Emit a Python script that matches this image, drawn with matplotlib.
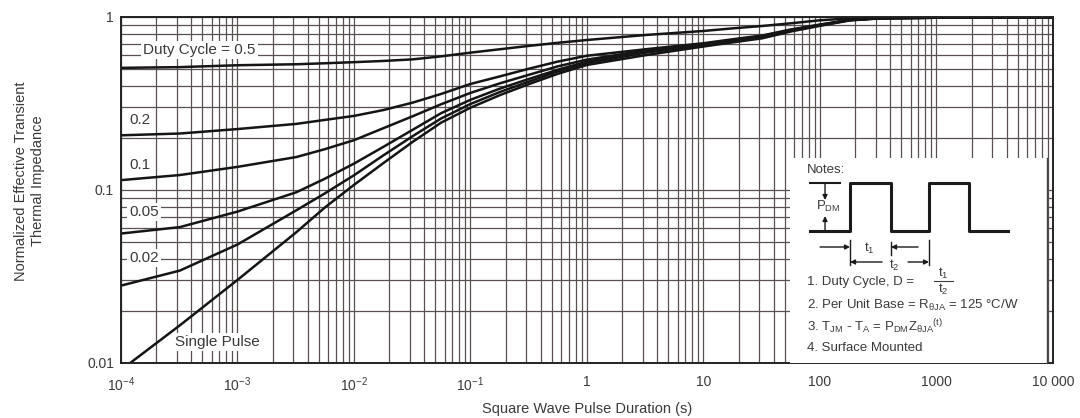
import matplotlib
matplotlib.use("Agg")
import matplotlib.pyplot as plt

plt.rcParams['font.family'] = ['Liberation Sans', 'DejaVu Sans']
plt.rcParams['mathtext.fontset'] = 'custom'
plt.rcParams['mathtext.rm'] = 'Liberation Sans'
plt.rcParams['mathtext.it'] = 'Liberation Sans:italic'

# pulse duration (s)
t = [1e-4, 3.2e-4, 1e-3, 3.2e-3, 5.6e-3, 1e-2, 1.8e-2, 3.2e-2, 5.6e-2, 0.1,
     0.18, 0.32, 0.56, 1, 3.2, 10, 18, 32, 56, 100, 180, 320, 1000, 3200, 10000]

d50 = [0.508, 0.513, 0.526, 0.533, 0.540, 0.548, 0.557, 0.569, 0.592, 0.622,
       0.651, 0.681, 0.709, 0.736, 0.787, 0.83, 0.86, 0.887, 0.919, 0.957,
       0.981, 0.993, 0.99, 0.99, 0.99]
d20 = [0.207, 0.212, 0.225, 0.241, 0.254, 0.268, 0.29, 0.32, 0.359, 0.41,
       0.454, 0.503, 0.552, 0.597, 0.651, 0.705, 0.744, 0.782, 0.846, 0.904,
       0.963, 0.986, 0.99, 0.99, 0.99]
d10 = [0.114, 0.122, 0.136, 0.155, 0.172, 0.194, 0.228, 0.267, 0.313, 0.364,
       0.414, 0.464, 0.518, 0.567, 0.641, 0.695, 0.737, 0.776, 0.841, 0.901,
       0.961, 0.984, 0.99, 0.99, 0.99]
d05 = [0.056, 0.061, 0.075, 0.097, 0.116, 0.142, 0.178, 0.223, 0.278, 0.332,
       0.386, 0.439, 0.495, 0.552, 0.631, 0.69, 0.729, 0.768, 0.836, 0.898,
       0.96, 0.983, 0.99, 0.99, 0.99]
d02 = [0.028, 0.0342, 0.0484, 0.0763, 0.0954, 0.1216, 0.159, 0.205, 0.259,
       0.314, 0.369, 0.424, 0.484, 0.541, 0.622, 0.685, 0.724, 0.763, 0.831,
       0.894, 0.958, 0.982, 0.99, 0.99, 0.99]

t_single = [1.2e-4, 3.2e-4, 1e-3, 3.2e-3, 5.6e-3, 1e-2, 1.8e-2, 3.2e-2,
            5.6e-2, 0.1, 0.18, 0.32, 0.56, 1, 3.2, 10, 18, 32, 56, 100, 180,
            320, 1000, 3200, 10000]
single = [0.01, 0.0165, 0.0302, 0.057, 0.079, 0.107, 0.1435, 0.19, 0.245,
          0.299, 0.354, 0.41, 0.469, 0.528, 0.602, 0.675, 0.714, 0.753, 0.824,
          0.889, 0.955, 0.98, 0.99, 0.99, 0.99]

xticks = [1e-4, 1e-3, 1e-2, 1e-1, 1, 10, 100, 1000, 10000]
xticklabels = [r'$\mathregular{10^{-4}}$', r'$\mathregular{10^{-3}}$',
               r'$\mathregular{10^{-2}}$', r'$\mathregular{10^{-1}}$',
               '1', '10', '100', '1000', '10 000']
yticks = [0.01, 0.1, 1]
yticklabels = ['0.01', '0.1', '1']

txt = '#3a3a3a'
gridc = '#5a5050'
ink = '#151515'

fig = plt.figure(figsize=(10.8, 4.18), dpi=100)
ax = fig.add_axes([0.112, 0.1316, 0.863, 0.8278])
ax.set_xscale('log')
ax.set_yscale('log')
ax.set_xlim(1e-4, 1e4)
ax.set_ylim(0.01, 1)

ax.grid(True, which='both', color=gridc, lw=0.9)
ax.set_axisbelow(True)

for y in [d50, d20, d10, d05, d02]:
    ax.plot(t, y, color=ink, lw=1.8)
ax.plot(t_single, single, color=ink, lw=1.8)

ax.set_xticks(xticks)
ax.set_xticklabels(xticklabels)
ax.set_yticks(yticks)
ax.set_yticklabels(yticklabels)
ax.tick_params(which='both', length=0, labelsize=10, colors=txt)
ax.tick_params(axis='x', pad=9)
ax.tick_params(axis='y', pad=5)
for s in ax.spines.values():
    s.set_color('#222222')
    s.set_linewidth(1.4)

ax.set_xlabel('Square Wave Pulse Duration (s)', fontsize=10.5, color=txt,
              labelpad=6)
fig.text(0.027, 0.567, 'Normalized Effective Transient\nThermal Impedance',
         rotation=90, ha='center', va='center', fontsize=10.5, color=txt,
         linespacing=1.3)

# curve labels
lbl = dict(fontsize=11, color=txt, va='center', ha='left',
           bbox=dict(facecolor='white', edgecolor='none', pad=1.5))
ax.text(1.55e-4, 0.644, 'Duty Cycle = 0.5', **lbl)
ax.text(1.17e-4, 0.254, '0.2', **lbl)
ax.text(1.17e-4, 0.14, '0.1', **lbl)
ax.text(1.17e-4, 0.0746, '0.05', **lbl)
ax.text(1.17e-4, 0.0404, '0.02', **lbl)
ax.text(2.9e-4, 0.0132, 'Single Pulse', **lbl)

# notes box
nb = fig.add_axes([0.7315, 0.1316, 0.238, 0.4904])
nb.set_xlim(0, 257)
nb.set_ylim(205, 0)
nb.set_facecolor('white')
nb.set_xticks([])
nb.set_yticks([])
for k, s in nb.spines.items():
    s.set_visible(k == 'right')
    s.set_linewidth(1.0)
    s.set_color('#444444')

nfs = 9.5
nb.text(17, 12, 'Notes:', fontsize=nfs, color=txt, va='center')
nb.plot([20, 60, 60, 101, 101, 139, 139, 179, 179, 218],
        [73, 73, 25, 25, 73, 73, 25, 25, 73, 73], color='#1a1a1a', lw=2.2)
nb.plot([20, 50], [25, 25], color='#1a1a1a', lw=1.5)
arr = dict(arrowstyle='-|>', color='#1a1a1a', lw=1.0, mutation_scale=7,
           shrinkA=0, shrinkB=0)
nb.annotate('', xy=(35, 42), xytext=(35, 25), arrowprops=arr)
nb.annotate('', xy=(35, 58), xytext=(35, 73), arrowprops=arr)
nb.text(38, 48, r'P$_\mathregular{DM}$', fontsize=nfs, color=txt,
        ha='center', va='center')
nb.plot([60, 60], [82, 107], color='#1a1a1a', lw=1.0)
nb.plot([101, 101], [84, 97], color='#1a1a1a', lw=1.0)
nb.plot([139, 139], [82, 107], color='#1a1a1a', lw=1.0)
nb.annotate('', xy=(60, 89), xytext=(30, 89), arrowprops=arr)
nb.annotate('', xy=(101, 89), xytext=(128, 89), arrowprops=arr)
nb.text(79, 90, r't$_\mathregular{1}$', fontsize=nfs, color=txt,
        ha='center', va='center')
nb.annotate('', xy=(60, 104), xytext=(92, 104), arrowprops=arr)
nb.annotate('', xy=(139, 104), xytext=(118, 104), arrowprops=arr)
nb.text(104, 107, r't$_\mathregular{2}$', fontsize=nfs, color=txt,
        ha='center', va='center')

nb.text(17, 124, '1. Duty Cycle, D =', fontsize=nfs, color=txt, va='center')
nb.text(153, 115, r't$_\mathregular{1}$', fontsize=nfs, color=txt,
        ha='center', va='center')
nb.plot([144, 163], [123, 123], color=txt, lw=0.8)
nb.text(153, 131, r't$_\mathregular{2}$', fontsize=nfs, color=txt,
        ha='center', va='center')
nb.text(17, 147, r'2. Per Unit Base = R$_\mathregular{\theta JA}$ = 125 °C/W',
        fontsize=nfs, color=txt, va='center')
nb.text(17, 169, r'3. T$_\mathregular{JM}$ - T$_\mathregular{A}$ = '
        r'P$_\mathregular{DM}$Z$_\mathregular{\theta JA}$$^\mathregular{(t)}$',
        fontsize=nfs, color=txt, va='center')
nb.text(17, 190, '4. Surface Mounted', fontsize=nfs, color=txt, va='center')

fig.savefig('out.png', dpi=100, facecolor='white')
